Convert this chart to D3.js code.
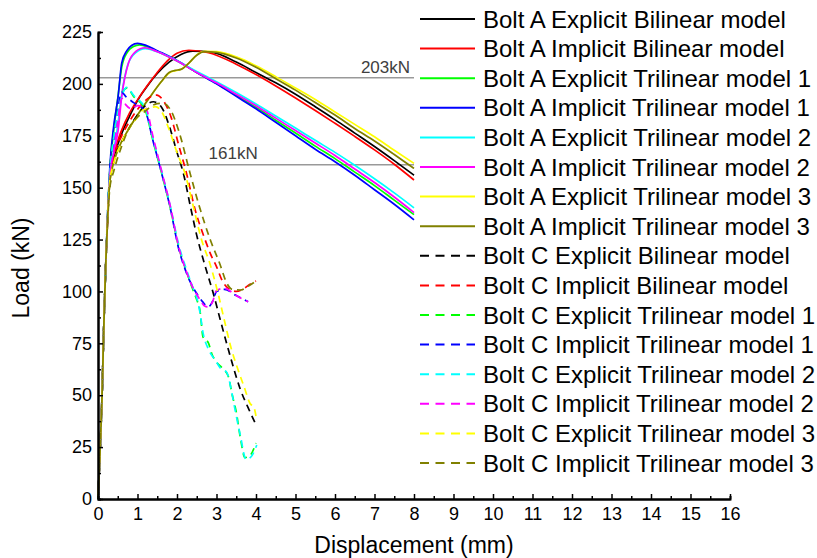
<html>
<head>
<script src="https://d3js.org/d3.v7.min.js"></script>
<style>
  body { margin: 0; background: #fff; }
  text { font-family: "Liberation Sans", Arial, sans-serif; }
</style>
</head>
<body>
<svg id="chart" width="817" height="558"></svg>
<script>
// axis ticks
var xTicks = [0, 1, 2, 3, 4, 5, 6, 7, 8, 9, 10, 11, 12, 13, 14, 15, 16];
var yTicks = [0, 25, 50, 75, 100, 125, 150, 175, 200, 225];
var refLoads = [203, 161];
var refLabels = ["203kN", "161kN"];

// Bolt A (solid), [displacement mm, load kN]
var aExpBi = [[0,0],[0.05,22],[0.1,48],[0.15,85],[0.2,115],[0.25,138],[0.3,153],[0.4,164],[0.6,176],[0.8,184.5],[1.0,192],[1.25,199],[1.5,205],[1.8,210.5],[2.1,214.2],[2.4,215.8],[2.9,215.2],[3.5,210.5],[4,205.5],[4.5,200.5],[5,195],[5.5,189],[6,182.8],[6.5,176.3],[7,169.8],[7.5,163],[8,156]];
var aImpBi = [[0,0],[0.05,22],[0.1,48],[0.15,85],[0.2,115],[0.25,138],[0.3,155],[0.4,166],[0.6,177.7],[0.8,186],[1.06,194],[1.3,200.5],[1.5,205.5],[1.75,211],[2.0,214.8],[2.3,216.2],[2.8,215],[3.5,209.5],[4,204.5],[4.5,199],[5,193.2],[5.5,187.2],[6,181],[6.5,174.7],[7,168.2],[7.5,161.3],[8,153.7]];
var aExpTri1 = [[0,0],[0.05,22],[0.1,48],[0.15,85],[0.2,115],[0.25,140],[0.3,158],[0.4,178],[0.5,193],[0.6,208],[0.75,215.5],[0.9,218],[1.05,218.8],[1.3,217.5],[1.6,214.8],[2,211],[2.5,205.5],[3,200.2],[3.5,194.5],[4,188.7],[4.5,182.5],[5,176.3],[5.5,170],[6,164],[6.5,157.5],[7,151],[7.5,144],[8,137]];
var aImpTri1 = [[0,0],[0.05,22],[0.1,48],[0.15,85],[0.2,115],[0.25,140],[0.3,160],[0.4,180],[0.51,194],[0.6,210],[0.73,216],[0.85,218.5],[1.0,219.5],[1.2,218.7],[1.5,216],[2,211.3],[2.5,205.5],[3,200],[3.5,194],[4,188],[4.5,181.5],[5,175],[5.5,168.5],[6,162.5],[6.5,156],[7,149],[7.5,142],[8,134.5]];
var aExpTri2 = [[0,0],[0.05,22],[0.1,48],[0.15,85],[0.2,115],[0.25,140],[0.3,156],[0.4,168],[0.5,180],[0.6,195],[0.75,209],[0.95,215],[1.2,217],[1.5,215.5],[2,211.2],[2.5,206],[3,201],[3.5,195.8],[4,190.3],[4.5,184.5],[5,178.7],[5.5,172.8],[6,167],[6.5,160.8],[7,154.3],[7.5,147.5],[8,140.3]];
var aImpTri2 = [[0,0],[0.05,22],[0.1,48],[0.15,85],[0.2,115],[0.25,139],[0.3,155],[0.4,167],[0.51,177.7],[0.6,193.8],[0.77,210],[0.95,215.5],[1.19,217.4],[1.5,215.5],[2,211],[2.5,205.5],[3,200.5],[3.5,195],[4,189.5],[4.5,183.5],[5,177.5],[5.5,171.5],[6,165.5],[6.5,159],[7,152.5],[7.5,145.5],[8,138]];
var aExpTri3 = [[0,0],[0.05,22],[0.1,48],[0.15,85],[0.2,115],[0.25,138],[0.3,153],[0.38,161],[0.5,168],[0.76,177.7],[1.0,185],[1.32,193.8],[1.6,201],[1.85,205.8],[2.1,207],[2.3,210],[2.5,214],[2.7,215.7],[3.0,215.5],[3.5,213],[4,208.7],[4.5,203.5],[5,198],[5.5,192.5],[6,186.5],[6.5,180.5],[7,174.5],[7.5,168],[8,161.7]];
var aImpTri3 = [[0,0],[0.05,22],[0.1,48],[0.15,85],[0.2,115],[0.25,138],[0.3,153],[0.38,161],[0.5,168],[0.76,177.7],[1.0,185],[1.32,193.8],[1.6,201],[1.8,205.5],[1.95,206.5],[2.1,207],[2.3,210],[2.5,213.8],[2.7,215.5],[3.0,215.2],[3.5,212.5],[4,208],[4.5,202.5],[5,197],[5.5,191],[6,185],[6.5,178.5],[7,172.5],[7.5,166],[8,159.3]];

// Bolt C (dashed)
var cExpBi = [[0,0],[0.05,22],[0.1,48],[0.15,85],[0.2,115],[0.25,138],[0.3,153],[0.4,163],[0.6,172],[0.8,179],[1.0,185],[1.2,189.5],[1.4,191.4],[1.6,189],[1.8,180],[2.0,167],[2.16,157],[2.35,140],[2.5,127],[2.7,113],[2.92,99],[3.1,86],[3.3,72],[3.45,62],[3.6,53],[3.8,44],[4.02,35]];
var cImpBi = [[0,0],[0.05,22],[0.1,48],[0.15,85],[0.2,115],[0.25,138],[0.3,155],[0.4,165],[0.6,175],[0.8,182],[1.1,190],[1.3,193.5],[1.49,194.6],[1.65,192],[1.85,184],[2.05,170],[2.24,157],[2.45,140],[2.71,125],[2.85,118],[3.0,112],[3.15,105],[3.3,101.5],[3.5,100],[3.7,101.5],[3.85,103.5],[4.0,105]];
var cExpTri1 = [[0,0],[0.05,22],[0.1,48],[0.15,85],[0.2,115],[0.25,140],[0.3,158],[0.4,175],[0.5,187],[0.6,195],[0.73,198],[0.9,194],[1.19,187.6],[1.4,172],[1.61,157],[1.82,141],[2.05,121],[2.25,109],[2.4,101],[2.5,96],[2.58,91],[2.66,78],[2.8,75],[2.88,70],[3.0,66],[3.15,63],[3.3,59],[3.4,50],[3.5,42],[3.6,30],[3.72,20],[3.85,21],[4.0,27]];
var cImpTri1 = [[0,0],[0.05,22],[0.1,48],[0.15,85],[0.2,115],[0.25,140],[0.3,157],[0.4,172],[0.5,187],[0.6,196],[0.7,194],[0.9,191],[1.19,187],[1.4,172],[1.61,157],[1.82,141],[2.05,120],[2.2,111],[2.35,104],[2.5,99],[2.65,95],[2.79,92.6],[2.92,96],[3.0,100],[3.2,101],[3.5,98],[3.8,95]];
var cExpTri2 = [[0,0],[0.05,22],[0.1,48],[0.15,85],[0.2,115],[0.25,140],[0.3,157],[0.4,174],[0.5,186],[0.6,194],[0.73,198.3],[0.9,194.5],[1.2,188],[1.4,173],[1.61,158],[1.82,142],[2.05,122],[2.25,110],[2.4,102],[2.5,97],[2.58,90],[2.66,80],[2.8,72],[3.0,66],[3.1,63],[3.26,61],[3.38,52],[3.47,43],[3.6,31],[3.75,19],[3.9,21],[4.02,26]];
var cImpTri2 = [[0,0],[0.05,22],[0.1,48],[0.15,85],[0.2,115],[0.25,139],[0.3,155],[0.4,168],[0.5,182],[0.6,193],[0.7,190],[0.85,188],[1.0,189.5],[1.2,188.5],[1.4,174],[1.61,158],[1.82,142],[2.05,121],[2.25,109],[2.4,102],[2.55,97],[2.7,93],[2.79,92.5],[2.9,95],[3.0,100.5],[3.2,101.5],[3.5,98],[3.8,95]];
var cExpTri3 = [[0,0],[0.05,22],[0.1,48],[0.15,85],[0.2,115],[0.25,138],[0.3,153],[0.4,162],[0.6,172],[0.8,179],[1.0,184],[1.15,187.5],[1.32,188.2],[1.45,189],[1.6,187],[1.8,178],[2.0,167],[2.2,157],[2.4,142],[2.62,125],[2.84,113],[3.04,99],[3.2,86],[3.38,72],[3.55,62],[3.7,54],[3.85,46],[3.95,44],[4.0,40]];
var cImpTri3 = [[0,0],[0.05,22],[0.1,48],[0.15,85],[0.2,115],[0.25,136],[0.3,150],[0.4,158],[0.6,170],[0.76,177.7],[1.0,184],[1.14,186],[1.3,188.5],[1.5,190.5],[1.65,190.6],[1.85,187],[2.05,177],[2.33,157],[2.55,142],[2.84,125],[3.09,113],[3.26,104],[3.4,101],[3.6,100.7],[3.8,102.5],[4.0,105]];

var seriesNames = ["Bolt A Explicit Bilinear model", "Bolt A Implicit Bilinear model",
  "Bolt A Explicit Trilinear model 1", "Bolt A Implicit Trilinear model 1",
  "Bolt A Explicit Trilinear model 2", "Bolt A Implicit Trilinear model 2",
  "Bolt A Explicit Trilinear model 3", "Bolt A Implicit Trilinear model 3",
  "Bolt C Explicit Bilinear model", "Bolt C Implicit Bilinear model",
  "Bolt C Explicit Trilinear model 1", "Bolt C Implicit Trilinear model 1",
  "Bolt C Explicit Trilinear model 2", "Bolt C Implicit Trilinear model 2",
  "Bolt C Explicit Trilinear model 3", "Bolt C Implicit Trilinear model 3"];
var seriesData = [aExpBi, aImpBi, aExpTri1, aImpTri1, aExpTri2, aImpTri2, aExpTri3, aImpTri3,
  cExpBi, cImpBi, cExpTri1, cImpTri1, cExpTri2, cImpTri2, cExpTri3, cImpTri3];
var colors = ["#000000", "#ff0000", "#00ff00", "#0000ff", "#00ffff", "#ff00ff", "#ffff00", "#808000"];

var svg = d3.select('#chart');
var margin = {left: 98, right: 87, top: 32, bottom: 59};
var width = 817 - margin.left - margin.right;
var height = 558 - margin.top - margin.bottom;

var x = d3.scaleLinear().domain([0, 16]).range([margin.left, margin.left + width]);
var y = d3.scaleLinear().domain([0, 225]).range([margin.top + height, margin.top]);

// reference lines
svg.selectAll('line.ref')
  .data(refLoads)
  .enter()
  .append('line')
  .attr('x1', x(0))
  .attr('x2', x(8))
  .attr('y1', function(d) { return y(d); })
  .attr('y2', function(d) { return y(d); })
  .attr('stroke', '#999')
  .attr('stroke-width', 1.5);

svg.append('text')
  .attr('x', x(7.9)).attr('y', y(refLoads[0]) - 5)
  .attr('text-anchor', 'end')
  .attr('font-size', 17).attr('fill', '#404040')
  .text(refLabels[0]);
svg.append('text')
  .attr('x', x(3.42)).attr('y', y(refLoads[1]) - 6)
  .attr('text-anchor', 'middle')
  .attr('font-size', 17).attr('fill', '#404040')
  .text(refLabels[1]);

var line = d3.line()
  .x(function(d) { return x(d[0]); })
  .y(function(d) { return y(d[1]); })
  .curve(d3.curveMonotoneX);

// drawn in legend order, later series on top
svg.selectAll('path.curve')
  .data(seriesData)
  .enter()
  .append('path')
  .attr('class', 'curve')
  .attr('d', line)
  .attr('fill', 'none')
  .attr('stroke', function(d, i) { return colors[i % 8]; })
  .attr('stroke-width', 1.7)
  .attr('stroke-dasharray', function(d, i) { return i >= 8 ? '7,5' : null; });

// axes
var xAxis = d3.axisBottom(x).tickValues(xTicks).tickSize(-5).tickSizeOuter(0).tickPadding(8);
var xMinor = d3.axisBottom(x).tickValues(d3.range(0.5, 16, 1)).tickSize(-3).tickFormat('');
var yAxis = d3.axisLeft(y).tickValues(yTicks).tickSize(-5).tickSizeOuter(0).tickPadding(6);
var yMinor = d3.axisLeft(y).tickValues(d3.range(12.5, 225, 25)).tickSize(-3).tickFormat('');

function styleAxis(g) {
  g.select('.domain').attr('stroke', '#000').attr('stroke-width', 2);
  g.selectAll('.tick line').attr('stroke', '#000').attr('stroke-width', 1.5);
  g.selectAll('text').attr('font-size', 18).attr('fill', '#000')
    .attr('font-family', '"Liberation Sans", Arial, sans-serif');
}

svg.append('g').attr('transform', 'translate(0,' + y(0) + ')').call(xMinor).call(styleAxis);
svg.append('g').attr('transform', 'translate(0,' + y(0) + ')').call(xAxis).call(styleAxis);
svg.append('g').attr('transform', 'translate(' + x(0) + ',0)').call(yMinor).call(styleAxis);
svg.append('g').attr('transform', 'translate(' + x(0) + ',0)').call(yAxis).call(styleAxis);

svg.append('text')
  .attr('x', 414).attr('y', 553)
  .attr('text-anchor', 'middle')
  .attr('font-size', 23)
  .text('Displacement (mm)');
svg.append('text')
  .attr('transform', 'translate(29,268) rotate(-90)')
  .attr('text-anchor', 'middle')
  .attr('font-size', 23)
  .text('Load (kN)');

// legend
var legend = svg.selectAll('g.legend')
  .data(seriesNames)
  .enter()
  .append('g')
  .attr('class', 'legend')
  .attr('transform', function(d, i) { return 'translate(420,' + (19 + i * 29.6) + ')'; });

legend.append('line')
  .attr('x1', 0).attr('x2', 55)
  .attr('stroke', function(d, i) { return colors[i % 8]; })
  .attr('stroke-width', 2)
  .attr('stroke-dasharray', function(d, i) { return i >= 8 ? '9,6.5' : null; });

legend.append('text')
  .attr('x', 63).attr('dy', '0.36em')
  .attr('font-size', 24)
  .text(function(d) { return d; });
</script>
</body>
</html>
